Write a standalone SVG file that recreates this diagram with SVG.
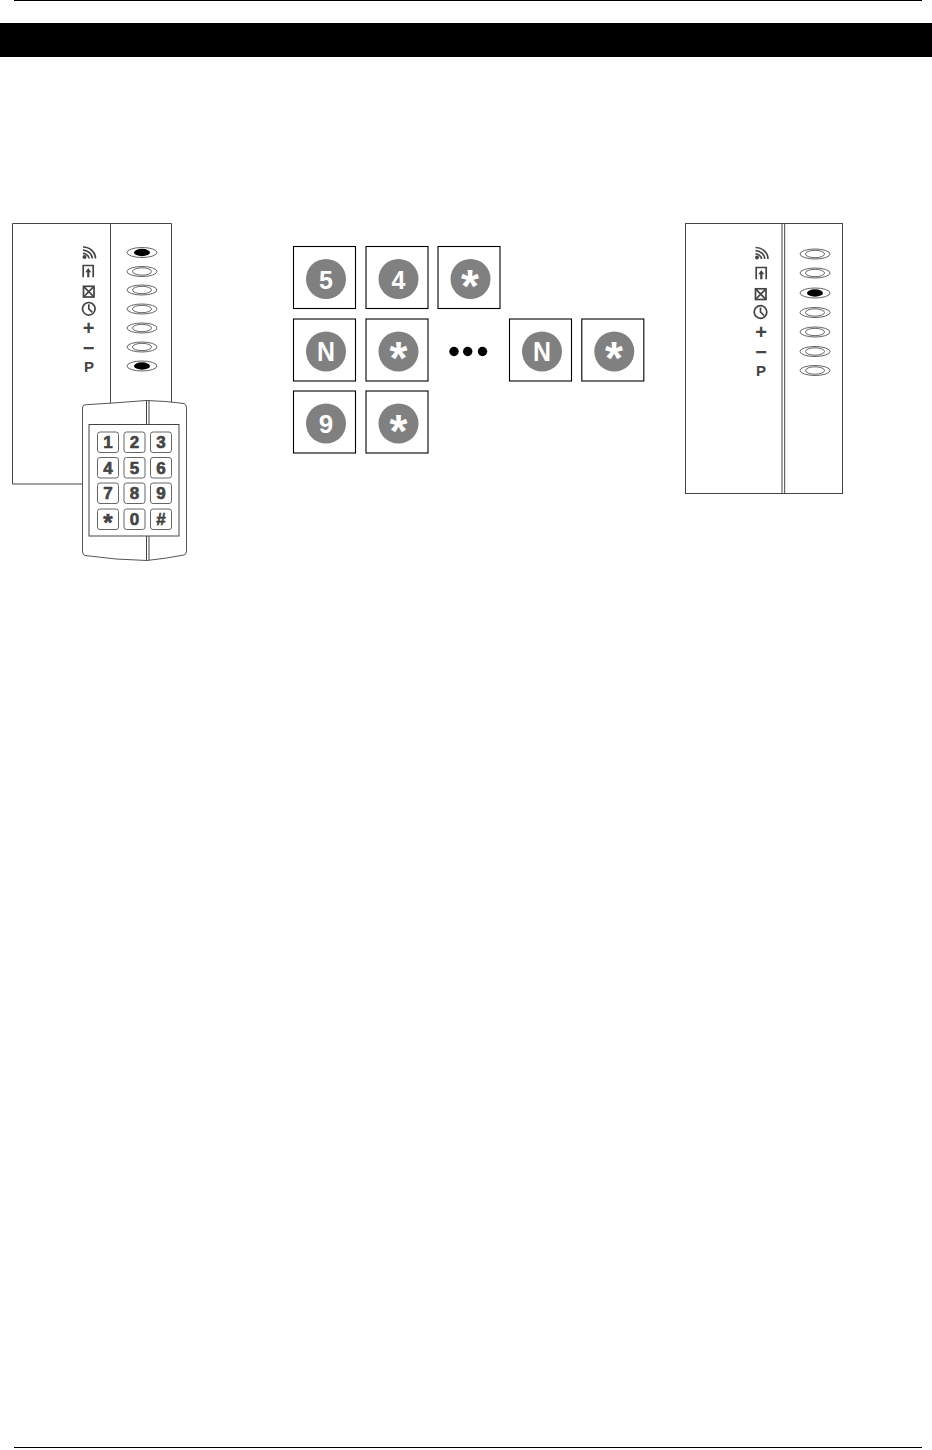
<svg xmlns="http://www.w3.org/2000/svg" width="932" height="1450" viewBox="0 0 932 1450">
<style>
.l{fill:none;stroke:#444;stroke-width:1}
.g{fill:none;stroke:#666;stroke-width:1}
.o{fill:#fff;stroke:#555;stroke-width:.9}
.k{fill:#fff;stroke:#000;stroke-width:1.1}
.c{fill:#808080}
.d{font:bold 25px "Liberation Sans",Arial,sans-serif;fill:#fff;text-anchor:middle}
.s{font:bold 46px "Liberation Sans",Arial,sans-serif;fill:#fff;text-anchor:middle}
.n{font:bold 17px "Liberation Sans",Arial,sans-serif;fill:#444;stroke:#444;stroke-width:.6;text-anchor:middle}
.i{font:bold 20px "Liberation Sans",Arial,sans-serif;fill:#444;text-anchor:middle}
.p{font:bold 15px "Liberation Sans",Arial,sans-serif;fill:#444;text-anchor:middle}
.ic{fill:none;stroke:#444;stroke-width:1.7}
</style>
<defs>
<g id="led"><ellipse class="o" rx="15" ry="5"/><ellipse class="o" rx="9.500" ry="3.700"/></g>
<g id="ledon"><ellipse class="o" rx="15" ry="5"/><ellipse fill="#000" rx="8" ry="3.700"/></g>
<g id="wifi"><path class="ic" d="M-5.500 -6C1.500 -6 7 -1 7 5.500M-5.500 -2.800C-1 -2.800 3.800 1 3.800 5.500M-5.500 0.400C-3 0.400 0.600 2.500 0.600 5.500"/><circle cx="-4" cy="4" r="2" fill="#444"/></g>
<g id="door"><path class="ic" d="M-4.800 6.200V-5.500H5.200V6.200"/><path d="M0.300 -3L3.200 1.200H1.400V6.200H-0.800V1.200H-2.700Z" fill="#444"/></g>
<g id="box"><rect class="ic" x="-5" y="-5.200" width="10.500" height="10.700"/><path class="ic" stroke-width="1.200" d="M-4.500 -4.700L5 5M5 -4.700L-4.500 5"/></g>
<g id="clock"><circle class="ic" r="6.300"/><path class="ic" d="M0 -4.500V0L3.500 3.500"/></g>
<g id="sq"><rect class="k" x="-31" y="-31" width="62" height="62"/><circle class="c" cx="1.500" cy="1.500" r="20"/></g>
<g id="key"><rect class="g" x="0" y="0" width="21" height="20.500" rx="2.500"/></g>
</defs>

<g id="page">
<path d="M14 0.500H922" stroke="#000" stroke-width="1"/>
<rect id="title-bar" x="0" y="23" width="932" height="34" fill="#000"/>
<path d="M14 1447.500H922" stroke="#000" stroke-width="1"/>
</g>

<g id="left-panel">
<path class="l" d="M83 484H12.500V223.500H171.500V404M110.500 223.500V404"/>
<use href="#ledon" x="142" y="252.500"/>
<use href="#led" x="142" y="271.500"/>
<use href="#led" x="142" y="290"/>
<use href="#led" x="142" y="309"/>
<use href="#led" x="142" y="328"/>
<use href="#led" x="142" y="347"/>
<use href="#ledon" x="142" y="366"/>
<use href="#wifi" x="88.500" y="253"/>
<use href="#door" x="88" y="271"/>
<use href="#box" x="88.500" y="291.500"/>
<use href="#clock" x="88.800" y="308.800"/>
<text class="i" x="88.500" y="335">+</text>
<text class="i" x="88.500" y="354.500">−</text>
<text class="p" x="89" y="372">P</text>
</g>

<g id="keypad">
<path d="M82.500 408Q82.500 405 85 404.800Q116 403 146 400.500Q167 401 184 403.500Q186.500 404 186.500 408V551Q186.500 554.500 184 555Q166 558.500 147 560.500Q116 560 85 555.500Q82.500 555 82.500 551Z" fill="#fff" stroke="#555"/>
<path class="l" d="M146.500 400V425M149 400V425M146.500 536V560M149 536V560"/>
<rect class="l" x="89" y="424.500" width="90" height="111.500"/>
<use href="#key" x="97.500" y="432"/><use href="#key" x="124" y="432"/><use href="#key" x="150.500" y="432"/>
<use href="#key" x="97.500" y="457.500"/><use href="#key" x="124" y="457.500"/><use href="#key" x="150.500" y="457.500"/>
<use href="#key" x="97.500" y="483"/><use href="#key" x="124" y="483"/><use href="#key" x="150.500" y="483"/>
<use href="#key" x="97.500" y="509"/><use href="#key" x="124" y="509"/><use href="#key" x="150.500" y="509"/>
<text class="n" x="108" y="448">1</text><text class="n" x="134.500" y="448">2</text><text class="n" x="161" y="448">3</text>
<text class="n" x="108" y="474">4</text><text class="n" x="134.500" y="474">5</text><text class="n" x="161" y="474">6</text>
<text class="n" x="108" y="499">7</text><text class="n" x="134.500" y="499">8</text><text class="n" x="161" y="499">9</text>
<text class="n" x="108" y="530.500" style="font-size:24px">*</text><text class="n" x="134.500" y="525">0</text><text class="n" x="161" y="525">#</text>
</g>

<g id="sequence">
<g id="k5"><use href="#sq" x="324.500" y="277.500"/><text class="d" x="326" y="288.500">5</text></g>
<g id="k4"><use href="#sq" x="397" y="277.500"/><text class="d" x="398.500" y="288.500">4</text></g>
<g id="kstar1"><use href="#sq" x="469" y="277.500"/><text class="s" x="470" y="302">*</text></g>
<g id="kn1"><use href="#sq" x="324.500" y="350"/><text class="d" x="326" y="360.500" textLength="18" lengthAdjust="spacingAndGlyphs" style="font-size:27px">N</text></g>
<g id="kstar2"><use href="#sq" x="397" y="350"/><text class="s" x="398.500" y="374">*</text></g>
<g id="dots"><circle cx="454" cy="351.500" r="4.700"/><circle cx="467.700" cy="351.500" r="4.700"/><circle cx="482.500" cy="351.500" r="4.700"/></g>
<g id="kn2"><use href="#sq" x="540.500" y="350"/><text class="d" x="542" y="360.500" textLength="18" lengthAdjust="spacingAndGlyphs" style="font-size:27px">N</text></g>
<g id="kstar3"><use href="#sq" x="612.800" y="350"/><text class="s" x="614" y="374">*</text></g>
<g id="k9"><use href="#sq" x="324.500" y="422"/><text class="d" x="326" y="432.500" style="font-size:26px">9</text></g>
<g id="kstar4"><use href="#sq" x="397" y="422"/><text class="s" x="398.500" y="447">*</text></g>
</g>

<g id="right-panel">
<rect class="l" x="685.500" y="223.500" width="157" height="270"/>
<path class="l" d="M782 223.500V493.500M784.700 223.500V493.500"/>
<use href="#led" x="815" y="254"/>
<use href="#led" x="815" y="273"/>
<use href="#ledon" x="815" y="293"/>
<use href="#led" x="815" y="312.500"/>
<use href="#led" x="815" y="332"/>
<use href="#led" x="815" y="351.500"/>
<use href="#led" x="815" y="370.500"/>
<use href="#wifi" x="761" y="253.500"/>
<use href="#door" x="761" y="273"/>
<use href="#box" x="760.500" y="294"/>
<use href="#clock" x="760.500" y="312"/>
<text class="i" x="761" y="339">+</text>
<text class="i" x="761" y="358.500">−</text>
<text class="p" x="761" y="376">P</text>
</g>
</svg>
